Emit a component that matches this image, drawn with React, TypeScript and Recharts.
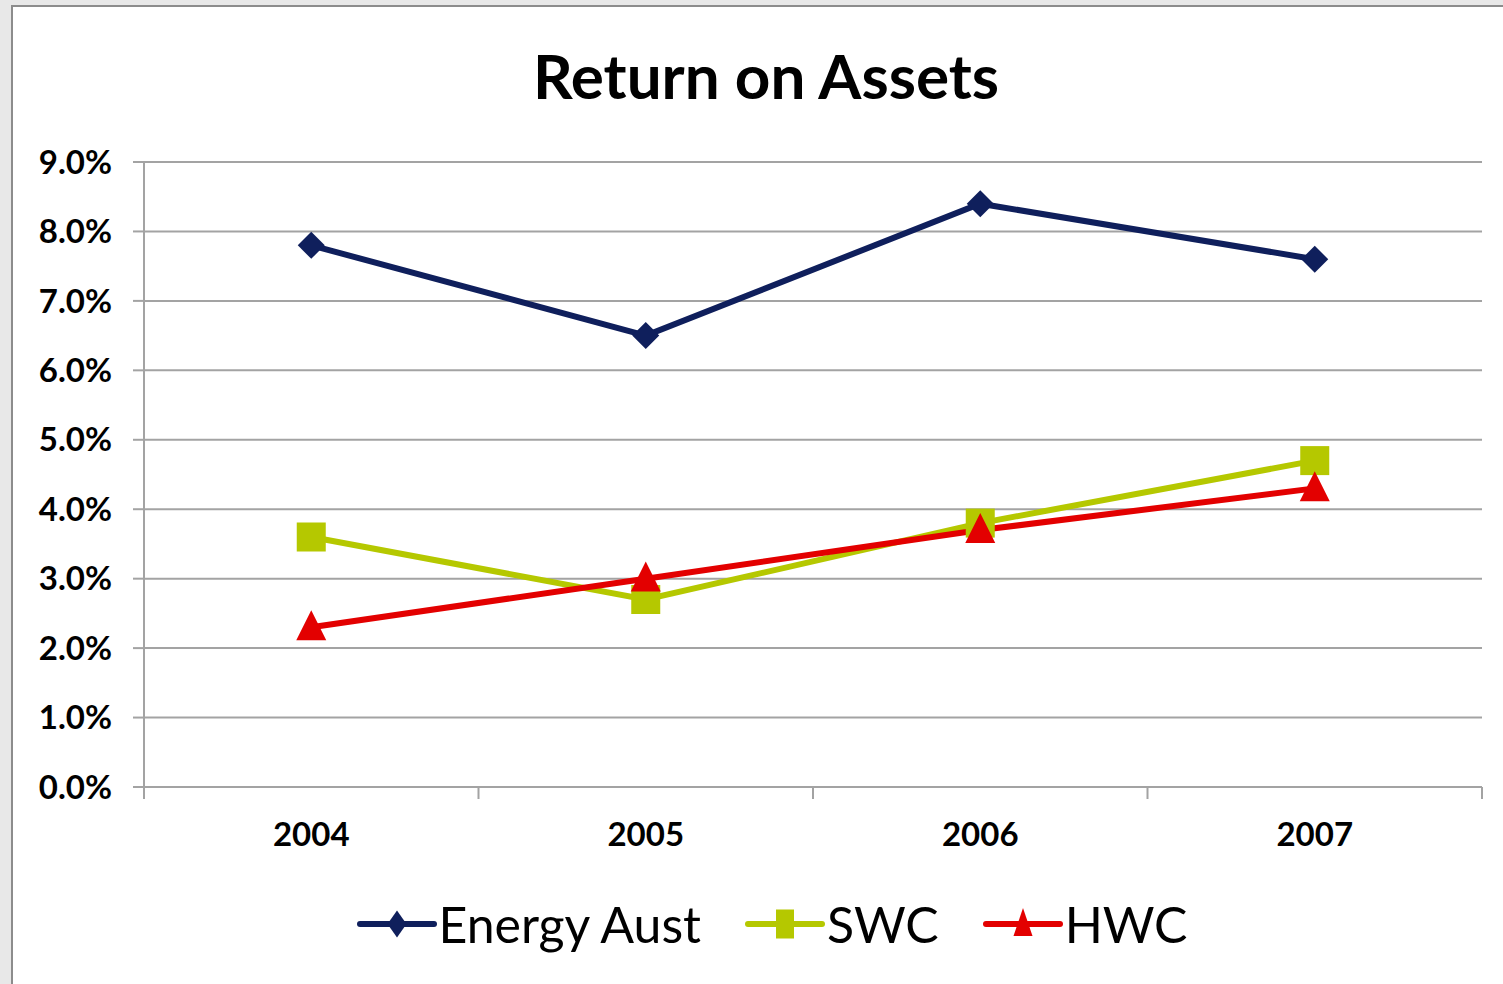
import React from 'react';
import { LineChart, Line, XAxis, YAxis, CartesianGrid, Legend } from 'recharts';

const years = ['2004', '2005', '2006', '2007'];
const energyAust = [7.8, 6.5, 8.4, 7.6];
const swc = [3.6, 2.7, 3.8, 4.7];
const hwc = [2.3, 3.0, 3.7, 4.3];
const yTicks = [0, 1, 2, 3, 4, 5, 6, 7, 8, 9];

const series = [
  { key: 'energy', name: 'Energy Aust', color: '#0f1f5c', shape: 'diamond' },
  { key: 'swc', name: 'SWC', color: '#b5c800', shape: 'square' },
  { key: 'hwc', name: 'HWC', color: '#e30000', shape: 'triangle' },
];

const data = years.map((year, i) => ({
  pos: i + 0.5,
  year,
  energy: energyAust[i],
  swc: swc[i],
  hwc: hwc[i],
}));

const boundaryTicks = years.map((_, i) => i).concat(years.length);
const centerTicks = years.map((_, i) => i + 0.5);

const FONT = 'Lato, "Open Sans", sans-serif';
const GRID = '#a3a3a3';

type MarkerProps = { shape: string; cx: number; cy: number; color: string; w: number; h: number };

const Marker = ({ shape, cx, cy, color, w, h }: MarkerProps) => {
  if (shape === 'diamond') {
    return (
      <polygon
        points={`${cx},${cy - h / 2} ${cx + w / 2},${cy} ${cx},${cy + h / 2} ${cx - w / 2},${cy}`}
        fill={color}
      />
    );
  }
  if (shape === 'square') {
    return <rect x={cx - w / 2} y={cy - h / 2} width={w} height={h} fill={color} />;
  }
  const top = cy - h * 0.57;
  const bottom = cy + h * 0.43;
  return <polygon points={`${cx},${top} ${cx + w / 2},${bottom} ${cx - w / 2},${bottom}`} fill={color} />;
};

const chartSizes: Record<string, [number, number]> = {
  diamond: [27, 27],
  square: [29, 29],
  triangle: [30, 30],
};

const legendSizes: Record<string, [number, number]> = {
  diamond: [19, 27],
  square: [18, 29],
  triangle: [19, 28],
};

// boundary ticks carry only a tick line, no label
const BoundaryTick = (props: any) => (
  <line
    x1={props.x}
    x2={props.x}
    y1={props.y - 12}
    y2={props.y}
    stroke={GRID}
    strokeWidth={2}
  />
);

const renderLegend = () => (
  <div style={{ display: 'flex', justifyContent: 'center', alignItems: 'center', fontFamily: FONT }}>
    {series.map((s, i) => (
      <div
        key={s.key}
        style={{ display: 'flex', alignItems: 'center', marginLeft: i === 0 ? 0 : 44 }}
      >
        <svg width={80} height={34}>
          <line x1={3} y1={17} x2={77} y2={17} stroke={s.color} strokeWidth={6} strokeLinecap="round" />
          <Marker
            shape={s.shape}
            cx={40}
            cy={17}
            color={s.color}
            w={legendSizes[s.shape][0]}
            h={legendSizes[s.shape][1]}
          />
        </svg>
        <span style={{ fontSize: 50, color: '#000', marginLeft: 2, lineHeight: 1.2 }}>{s.name}</span>
      </div>
    ))}
  </div>
);

export default function App() {
  return (
    <div
      style={{
        position: 'absolute',
        left: 0,
        top: 0,
        width: 1503,
        height: 984,
        background: '#e8e8e8',
        overflow: 'hidden',
      }}
    >
      <div
        style={{
          position: 'absolute',
          left: 11,
          top: 5,
          width: 1530,
          height: 1010,
          background: '#ffffff',
          border: '2px solid #8c8c8c',
        }}
      />
      <div
        style={{
          position: 'absolute',
          left: 12,
          top: 38,
          width: 1508,
          textAlign: 'center',
          fontFamily: FONT,
          fontWeight: 700,
          fontSize: 62,
          lineHeight: 1.2,
          color: '#000',
        }}
      >
        Return on Assets
      </div>
      <div style={{ position: 'absolute', left: 0, top: 0 }}>
        <LineChart width={1503} height={984} data={data} margin={{ top: 162, right: 21, bottom: 0, left: 0 }}>
          <CartesianGrid horizontal vertical={false} stroke={GRID} strokeWidth={2} />
          <XAxis
            xAxisId="bounds"
            dataKey="pos"
            type="number"
            domain={[0, years.length]}
            ticks={boundaryTicks}
            interval={0}
            tick={<BoundaryTick />}
            tickSize={12}
            tickMargin={0}
            height={1}
            axisLine={{ stroke: GRID, strokeWidth: 2 }}
            tickLine={false}
          />
          <XAxis
            xAxisId="labels"
            dataKey="pos"
            type="number"
            domain={[0, years.length]}
            ticks={centerTicks}
            interval={0}
            tickFormatter={(v: number) => years[Math.floor(v)]}
            axisLine={false}
            tickLine={false}
            tickSize={0}
            tickMargin={35}
            height={196}
            tick={{ fill: '#000', fontSize: 33, fontWeight: 700, fontFamily: FONT }}
          />
          <YAxis
            domain={[0, 9]}
            ticks={yTicks}
            width={144}
            tickFormatter={(v: number) => `${v.toFixed(1)}%`}
            tickSize={11}
            tickMargin={21}
            axisLine={{ stroke: GRID, strokeWidth: 2 }}
            tickLine={{ stroke: GRID, strokeWidth: 2 }}
            tick={{ fill: '#000', fontSize: 33, fontWeight: 700, fontFamily: FONT }}
          />
          {series.map((s) => (
            <Line
              key={s.key}
              xAxisId="bounds"
              dataKey={s.key}
              name={s.name}
              stroke={s.color}
              strokeWidth={6}
              isAnimationActive={false}
              activeDot={false}
              dot={(p: any) => (
                <Marker
                  key={`${s.key}-${p.index}`}
                  shape={s.shape}
                  cx={p.cx}
                  cy={p.cy}
                  color={s.color}
                  w={chartSizes[s.shape][0]}
                  h={chartSizes[s.shape][1]}
                />
              )}
            />
          ))}
          <Legend
            layout="horizontal"
            verticalAlign="middle"
            align="center"
            content={renderLegend}
            wrapperStyle={{ top: 894, left: 12, width: 1520, height: 56 }}
          />
        </LineChart>
      </div>
    </div>
  );
}
